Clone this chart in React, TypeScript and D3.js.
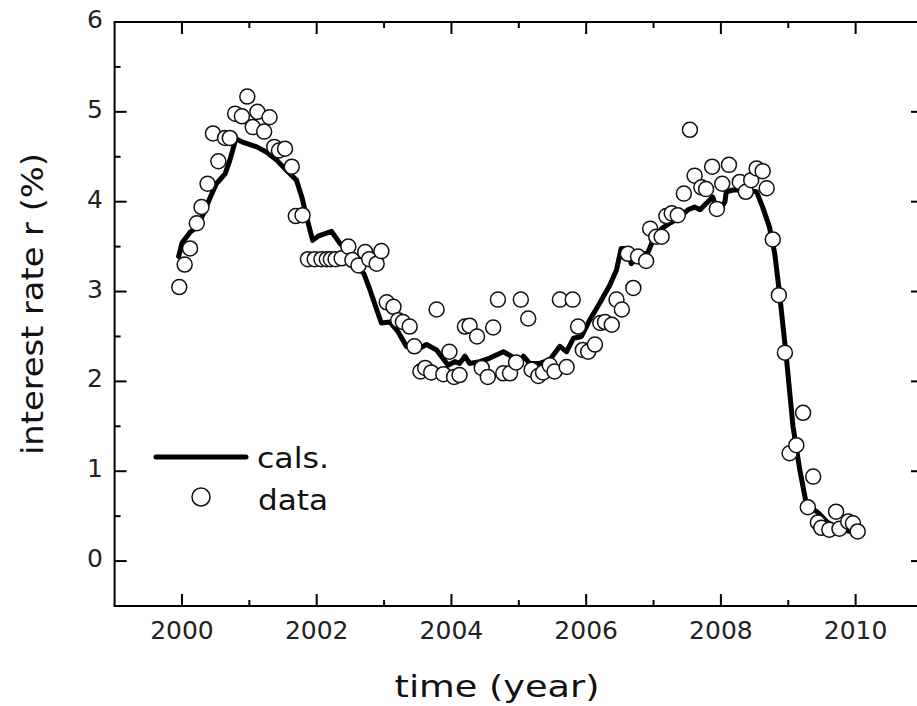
import React from "react";
import * as d3 from "d3";

const dataYears = [
  1999.96, 2000.04, 2000.12, 2000.22, 2000.29, 2000.38, 2000.46, 2000.54, 2000.64, 2000.71,
  2000.79, 2000.89, 2000.97, 2001.05, 2001.12, 2001.22, 2001.30, 2001.37, 2001.44, 2001.53,
  2001.63, 2001.69, 2001.79, 2001.87, 2001.97, 2002.07, 2002.15, 2002.21, 2002.28, 2002.37,
  2002.47, 2002.53, 2002.62, 2002.72, 2002.78, 2002.89, 2002.96, 2003.04, 2003.14, 2003.21,
  2003.28, 2003.38, 2003.45, 2003.54, 2003.61, 2003.70, 2003.78, 2003.88, 2003.97, 2004.04,
  2004.12, 2004.20, 2004.27, 2004.38, 2004.45, 2004.54, 2004.62, 2004.69, 2004.77, 2004.87,
  2004.96, 2005.03, 2005.14, 2005.19, 2005.29, 2005.36, 2005.46, 2005.53, 2005.61, 2005.71,
  2005.80, 2005.88, 2005.95, 2006.03, 2006.13, 2006.21, 2006.28, 2006.38, 2006.45, 2006.53,
  2006.62, 2006.70, 2006.77, 2006.89, 2006.95, 2007.04, 2007.12, 2007.19, 2007.27, 2007.36,
  2007.45, 2007.54, 2007.61, 2007.71, 2007.78, 2007.87, 2007.94, 2008.02, 2008.12, 2008.28,
  2008.37, 2008.45, 2008.53, 2008.62, 2008.68, 2008.77, 2008.86, 2008.95, 2009.02, 2009.12,
  2009.22, 2009.29, 2009.37, 2009.44, 2009.49, 2009.61, 2009.71, 2009.76, 2009.89, 2009.96,
  2010.03,
];
const dataValues = [
  3.05, 3.30, 3.48, 3.76, 3.94, 4.20, 4.76, 4.45, 4.71, 4.71,
  4.98, 4.95, 5.17, 4.83, 5.00, 4.78, 4.94, 4.61, 4.57, 4.59,
  4.39, 3.84, 3.85, 3.36, 3.36, 3.36, 3.36, 3.36, 3.36, 3.37,
  3.50, 3.35, 3.29, 3.44, 3.36, 3.31, 3.45, 2.88, 2.83, 2.68,
  2.66, 2.61, 2.39, 2.11, 2.15, 2.10, 2.80, 2.08, 2.33, 2.05,
  2.07, 2.61, 2.62, 2.50, 2.15, 2.05, 2.60, 2.91, 2.09, 2.09,
  2.21, 2.91, 2.70, 2.13, 2.06, 2.10, 2.18, 2.11, 2.91, 2.16,
  2.91, 2.61, 2.35, 2.33, 2.41, 2.65, 2.66, 2.63, 2.91, 2.80,
  3.42, 3.04, 3.39, 3.34, 3.70, 3.61, 3.61, 3.84, 3.87, 3.85,
  4.09, 4.80, 4.29, 4.16, 4.14, 4.39, 3.92, 4.20, 4.41, 4.22,
  4.11, 4.24, 4.37, 4.34, 4.15, 3.58, 2.96, 2.32, 1.20, 1.29,
  1.65, 0.60, 0.94, 0.43, 0.37, 0.35, 0.55, 0.36, 0.44, 0.42,
  0.33,
];

const calsYears = [
  1999.95, 2000.0, 2000.12, 2000.23, 2000.32, 2000.42, 2000.51, 2000.64, 2000.71, 2000.8,
  2000.91, 2001.11, 2001.26, 2001.41, 2001.55, 2001.7, 2001.78, 2001.85, 2001.94, 2002.03,
  2002.22, 2002.35, 2002.42, 2002.52, 2002.62, 2002.7, 2002.79, 2002.89, 2002.96, 2003.09,
  2003.21, 2003.33, 2003.48, 2003.63, 2003.78, 2003.95, 2004.05, 2004.12, 2004.2, 2004.27,
  2004.42, 2004.57, 2004.77, 2004.89, 2004.97, 2005.07, 2005.16, 2005.31, 2005.46, 2005.61,
  2005.71, 2005.81, 2005.93, 2006.05, 2006.2, 2006.35, 2006.45, 2006.52, 2006.6, 2006.67,
  2006.8, 2006.92, 2006.99, 2007.12, 2007.24, 2007.36, 2007.51, 2007.61, 2007.69, 2007.78,
  2007.88, 2007.96, 2008.06, 2008.08, 2008.18, 2008.33, 2008.53, 2008.62, 2008.72, 2008.8,
  2008.87, 2008.97, 2009.07, 2009.17, 2009.27, 2009.44, 2009.57, 2009.71, 2009.91,
];
const calsValues = [
  3.39, 3.54, 3.66, 3.72, 3.87, 4.05, 4.20, 4.31, 4.46, 4.70,
  4.66, 4.61, 4.55, 4.46, 4.35, 4.24, 4.05, 3.83, 3.57, 3.62,
  3.67, 3.53, 3.48, 3.33, 3.26, 3.20, 3.02, 2.80, 2.65, 2.66,
  2.55, 2.39, 2.35, 2.41, 2.35, 2.18, 2.22, 2.20, 2.28, 2.20,
  2.22, 2.26, 2.33, 2.28, 2.18, 2.28, 2.20, 2.20, 2.24, 2.39,
  2.33, 2.48, 2.50, 2.68, 2.87, 3.07, 3.24, 3.48, 3.48, 3.31,
  3.41, 3.44, 3.57, 3.70, 3.76, 3.81, 3.91, 3.94, 3.91, 3.98,
  4.05, 3.87, 4.00, 4.11, 4.13, 4.13, 4.11, 3.94, 3.72, 3.42,
  2.98, 2.28, 1.50, 1.02, 0.63, 0.54, 0.44, 0.37, 0.33,
];

const xMajorTicks = [2000, 2002, 2004, 2006, 2008, 2010];
const xMinorTicks = [2001, 2003, 2005, 2007, 2009];
const yMajorTicks = [0, 1, 2, 3, 4, 5, 6];
const yMinorTicks = [0.5, 1.5, 2.5, 3.5, 4.5, 5.5];

const xTitle = "time (year)";
const yTitle = "interest rate r (%)";
const legendLine = "cals.";
const legendData = "data";

const FONT = "'DejaVu Sans', Verdana, sans-serif";

export default function App() {
  const W = 917;
  const H = 706;
  const x = d3.scaleLinear().domain([1999, 2011]).range([114.6, 923]);
  const y = d3.scaleLinear().domain([-0.5, 6]).range([606, 22]);
  const left = x(1999);
  const right = x(2011);
  const top = y(6);
  const bottom = y(-0.5);
  const major = 12;
  const minor = 6;

  const line = d3
    .line<number>()
    .x((_, i) => x(calsYears[i]))
    .y((v) => y(v));

  return (
    <svg
      width={W}
      height={H}
      viewBox={`0 0 ${W} ${H}`}
      style={{ position: "absolute", left: 0, top: 0, background: "#fff" }}
    >
      <rect x={0} y={0} width={W} height={H} fill="#fff" />
      {/* frame */}
      <rect
        x={left}
        y={top}
        width={right - left}
        height={bottom - top}
        fill="none"
        stroke="#000"
        strokeWidth={2}
      />
      {/* x ticks */}
      {xMajorTicks.map((t) => (
        <g key={"xm" + t}>
          <line x1={x(t)} x2={x(t)} y1={bottom} y2={bottom - major} stroke="#000" strokeWidth={2} />
          <line x1={x(t)} x2={x(t)} y1={top} y2={top + major} stroke="#000" strokeWidth={2} />
          <text
            x={x(t)}
            y={639}
            textAnchor="middle"
            fontFamily={FONT}
            fontSize={25}
            fill="#222"
          >
            {t}
          </text>
        </g>
      ))}
      {xMinorTicks.map((t) => (
        <g key={"xn" + t}>
          <line x1={x(t)} x2={x(t)} y1={bottom} y2={bottom - minor} stroke="#000" strokeWidth={2} />
          <line x1={x(t)} x2={x(t)} y1={top} y2={top + minor} stroke="#000" strokeWidth={2} />
        </g>
      ))}
      {/* y ticks */}
      {yMajorTicks.map((t) => (
        <g key={"ym" + t}>
          <line x1={left} x2={left + major} y1={y(t)} y2={y(t)} stroke="#000" strokeWidth={2} />
          <line x1={right} x2={right - major} y1={y(t)} y2={y(t)} stroke="#000" strokeWidth={2} />
          <text
            x={103}
            y={y(t) + 6}
            textAnchor="end"
            fontFamily={FONT}
            fontSize={25}
            fill="#222"
          >
            {t}
          </text>
        </g>
      ))}
      {yMinorTicks.map((t) => (
        <g key={"yn" + t}>
          <line x1={left} x2={left + minor} y1={y(t)} y2={y(t)} stroke="#000" strokeWidth={2} />
          <line x1={right} x2={right - minor} y1={y(t)} y2={y(t)} stroke="#000" strokeWidth={2} />
        </g>
      ))}
      {/* calculated line */}
      <path
        d={line(calsValues) || ""}
        fill="none"
        stroke="#000"
        strokeWidth={5}
        strokeLinejoin="round"
        strokeLinecap="round"
      />
      {/* data circles */}
      {dataValues.map((v, i) => (
        <circle
          key={"d" + i}
          cx={x(dataYears[i])}
          cy={y(v)}
          r={7.5}
          fill="#fff"
          stroke="#111"
          strokeWidth={1.5}
        />
      ))}
      {/* legend */}
      <line x1={156} x2={246} y1={457} y2={457} stroke="#000" strokeWidth={5} strokeLinecap="round" />
      <text x={257} y={468} fontFamily={FONT} fontSize={28} fill="#111" textLength={72} lengthAdjust="spacingAndGlyphs">
        {legendLine}
      </text>
      <circle cx={201} cy={497} r={9} fill="#fff" stroke="#111" strokeWidth={1.5} />
      <text x={258} y={510} fontFamily={FONT} fontSize={28} fill="#111" textLength={70} lengthAdjust="spacingAndGlyphs">
        {legendData}
      </text>
      {/* axis titles */}
      <text
        x={497}
        y={697}
        textAnchor="middle"
        fontFamily={FONT}
        fontSize={31}
        fill="#111"
        textLength={205}
        lengthAdjust="spacingAndGlyphs"
      >
        {xTitle}
      </text>
      <text
        transform={`translate(43,304) rotate(-90)`}
        textAnchor="middle"
        fontFamily={FONT}
        fontSize={31}
        fill="#111"
        textLength={302}
        lengthAdjust="spacingAndGlyphs"
      >
        {yTitle}
      </text>
    </svg>
  );
}
